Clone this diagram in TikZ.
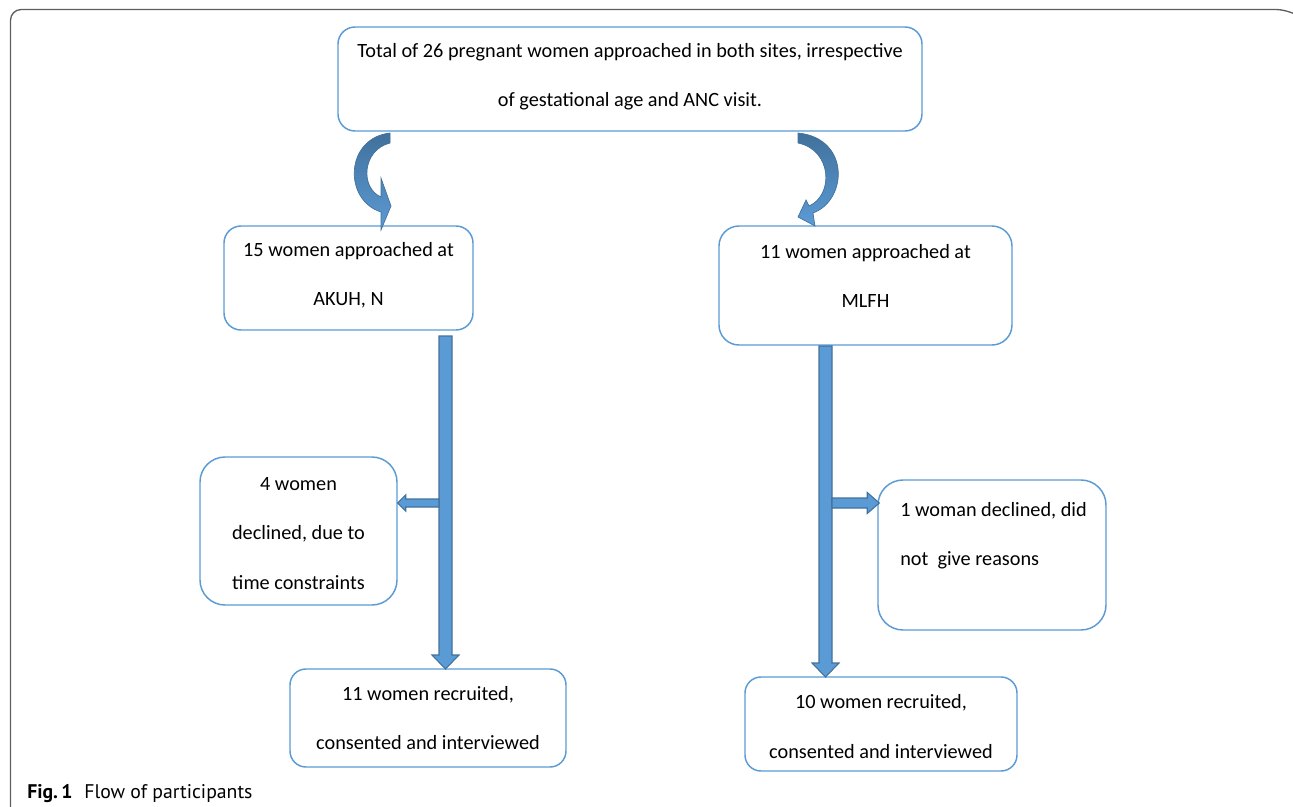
\documentclass[tikz,border=0pt]{standalone}
\usepackage{fontspec}
\setmainfont{Carlito}
\newfontfamily\capfont{PT Sans}
\usetikzlibrary{calc}
\definecolor{boxblue}{HTML}{5B9BD5}
\definecolor{darkblue}{HTML}{41719C}
\definecolor{framegray}{HTML}{5E5E5E}
\newdimen\px \px=0.75pt
\begin{document}
\begin{tikzpicture}[x=0.75pt,y=-0.75pt,
  box/.style={draw=boxblue, line width=1.1pt, fill=white, inner sep=0pt},
  txt/.style={font=\fontsize{15.2}{36.8}\selectfont, align=center, inner sep=0pt},
  blk/.style={fill=boxblue, draw=darkblue, line width=0.8pt, line join=miter},
  curv/.style={top color=darkblue, bottom color=boxblue, draw=darkblue, line width=0.5pt}]
\useasboundingbox (0,0) rectangle (1293,807);
% outer frame
\draw[framegray, line width=1pt, rounded corners=8pt] (10.5,810) -- (10.5,9.5) -- (1287,9.5) -- (1293,13);

% boxes
\node[box, rounded corners=17\px, minimum width=584\px, minimum height=104\px] (b1) at (630,79) {};
\node[box, rounded corners=17\px, minimum width=249\px, minimum height=104\px] (b2) at (348.5,278) {};
\node[box, rounded corners=20\px, minimum width=293\px, minimum height=119\px] (b3) at (865.5,285.5) {};
\node[box, rounded corners=25\px, minimum width=197\px, minimum height=148\px] (b4) at (298.5,531) {};
\node[box, rounded corners=25\px, minimum width=228\px, minimum height=150\px] (b5) at (992,555) {};
\node[box, rounded corners=16\px, minimum width=276\px, minimum height=98\px] (b6) at (428,718) {};
\node[box, rounded corners=16\px, minimum width=272\px, minimum height=94\px] (b7) at (881,724) {};

% texts
\node[txt] (t1) at (630,77) {Total of 26 pregnant women approached in both sites, irrespective\\of gestational age and ANC visit.};
\node[txt] (t2) at (348.5,275.5) {15 women approached at\\AKUH, N};
\node[txt] (t3) at (865.5,275.5) {11 women approached at\\MLFH};
\node[txt] (t4) at (298.5,533.5) {4 women\\declined, due to\\time constraints};
\node[txt, align=left, anchor=west] (t5) at (900,535.5) {1 woman declined, did\\not~ give reasons};
\node[txt] (t6) at (428,718) {11 women recruited,\\consented and interviewed};
\node[txt] (t7) at (881,726.5) {10 women recruited,\\consented and interviewed};

% named ends of the block arrows
\coordinate (l1) at (445.5,336);
\coordinate (l2) at (445.5,669);
\coordinate (r1) at (825.5,346);
\coordinate (r2) at (825.5,677);
\coordinate (lm) at (439,503);
\coordinate (rm) at (832,503);

% vertical block arrows
\draw[blk] ($(l1)+(-6.5,0)$) -- ($(l2)+(-6.5,-14)$) -- ($(l2)+(-13.5,-14)$) -- (l2) -- ($(l2)+(13.5,-14)$) -- ($(l2)+(6.5,-14)$) -- ($(l1)+(6.5,0)$) -- cycle;
\draw[blk] ($(r1)+(-6.5,0)$) -- ($(r2)+(-6.5,-14)$) -- ($(r2)+(-13.5,-14)$) -- (r2) -- ($(r2)+(13.5,-14)$) -- ($(r2)+(6.5,-14)$) -- ($(r1)+(6.5,0)$) -- cycle;
% side arrows
\draw[blk] ($(lm)+(0,-4)$) -- ($(b4.east|-lm)+(8,-4)$) -- ($(b4.east|-lm)+(8,-8)$) -- (b4.east|-lm) -- ($(b4.east|-lm)+(8,8)$) -- ($(b4.east|-lm)+(8,4)$) -- ($(lm)+(0,4)$) -- cycle;
\draw[blk] ($(rm)+(0,-5)$) -- ($(b5.west|-rm)+(-10,-5)$) -- ($(b5.west|-rm)+(-10,-10.5)$) -- ($(b5.west|-rm)+(2,0)$) -- ($(b5.west|-rm)+(-10,10.5)$) -- ($(b5.west|-rm)+(-10,5)$) -- ($(rm)+(0,5)$) -- cycle;

% curved arrows
\shade[curv] (390,133) .. controls (345,138) and (343,200) .. (381,212) -- (381,230) -- (391,206) -- (381,178) -- (381,197) .. controls (360,188) and (362,150) .. (390,143) -- cycle;
\shade[curv] (798,133) .. controls (850,138) and (848,200) .. (813,213) -- (815,226) -- (798,217) -- (806,200) -- (809,206) .. controls (834,195) and (832,150) .. (798,143) -- cycle;

% caption
\node[anchor=base west, inner sep=0pt] (cap) at (27,798) {\capfont\fontsize{14.8}{17}\selectfont\textbf{Fig.\,1}\hspace{0.6em}Flow of participants};
\end{tikzpicture}
\end{document}
